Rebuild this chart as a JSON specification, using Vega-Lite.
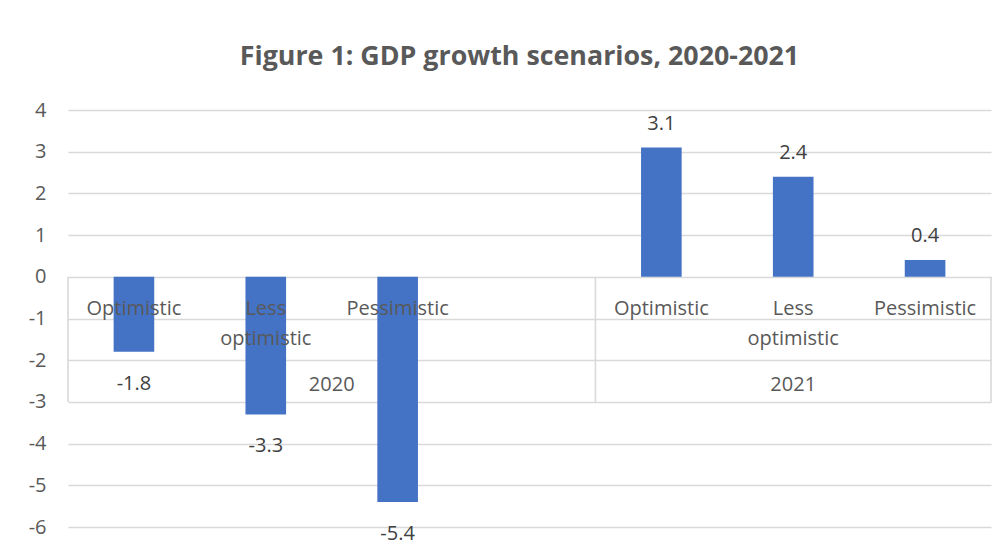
{
  "$schema": "https://vega.github.io/schema/vega-lite/v6.json",
  "autosize": "none",
  "width": 923,
  "height": 417,
  "padding": {"left": 68, "top": 110, "right": 17, "bottom": 24},
  "background": "white",
  "title": {
    "text": "Figure 1: GDP growth scenarios, 2020-2021",
    "font": "Open Sans",
    "fontSize": 26.8,
    "fontWeight": "bold",
    "color": "#595959",
    "anchor": "middle",
    "baseline": "alphabetic",
    "offset": 8,
    "dx": -10
  },
  "config": {
    "view": {"stroke": null},
    "text": {"font": "Open Sans", "fontSize": 20}
  },
  "data": {
    "values": [
      {"year": "2020", "scenario": "Optimistic", "key": "2020 Optimistic", "value": -1.8},
      {"year": "2020", "scenario": "Less optimistic", "key": "2020 Less optimistic", "value": -3.3},
      {"year": "2020", "scenario": "Pessimistic", "key": "2020 Pessimistic", "value": -5.4},
      {"year": "2021", "scenario": "Optimistic", "key": "2021 Optimistic", "value": 3.1},
      {"year": "2021", "scenario": "Less optimistic", "key": "2021 Less optimistic", "value": 2.4},
      {"year": "2021", "scenario": "Pessimistic", "key": "2021 Pessimistic", "value": 0.4}
    ]
  },
  "encoding": {
    "x": {
      "field": "key",
      "type": "nominal",
      "sort": null,
      "scale": {
        "domain": ["2020 Optimistic", "2020 Less optimistic", "2020 Pessimistic", "2020 blank", "2021 Optimistic", "2021 Less optimistic", "2021 Pessimistic"],
        "paddingInner": 0,
        "paddingOuter": 0
      },
      "axis": null
    }
  },
  "layer": [
    {
      "mark": {"type": "bar", "width": {"band": 0.308}, "color": "#4472C4"},
      "encoding": {
        "y": {
          "field": "value",
          "type": "quantitative",
          "scale": {"domain": [-6, 4], "nice": false, "zero": false},
          "axis": {
            "title": null,
            "values": [-6, -5, -4, -3, -2, -1, 0, 1, 2, 3, 4],
            "labelExpr": "replace(datum.label, '\u2212', '-')",
            "domain": false,
            "ticks": false,
            "grid": true,
            "gridColor": "#d9d9d9",
            "gridWidth": 1.6,
            "labelFont": "Open Sans",
            "labelFontSize": 20,
            "labelColor": "#595959",
            "labelPadding": 22
          }
        }
      }
    },
    {
      "transform": [{"filter": "datum.scenario === 'Optimistic'"}],
      "mark": {"type": "rule", "color": "#d9d9d9", "strokeWidth": 1.6},
      "encoding": {
        "x": {"field": "key", "type": "nominal", "bandPosition": 0},
        "y": {"datum": 0},
        "y2": {"datum": -3}
      }
    },
    {
      "transform": [{"filter": "datum.key === '2021 Pessimistic'"}],
      "mark": {"type": "rule", "color": "#d9d9d9", "strokeWidth": 1.6},
      "encoding": {
        "x": {"field": "key", "type": "nominal", "bandPosition": 1},
        "y": {"datum": 0},
        "y2": {"datum": -3}
      }
    },
    {
      "mark": {"type": "text", "color": "#595959", "baseline": "alphabetic", "lineBreak": " ", "lineHeight": 30},
      "encoding": {
        "y": {"datum": -0.92},
        "text": {"field": "scenario"}
      }
    },
    {
      "transform": [{"filter": "datum.year === '2020' && datum.scenario === 'Less optimistic'"}],
      "mark": {"type": "text", "color": "#595959", "baseline": "alphabetic"},
      "encoding": {
        "x": {"field": "key", "type": "nominal", "bandPosition": 1},
        "y": {"datum": -2.74},
        "text": {"field": "year"}
      }
    },
    {
      "transform": [{"filter": "datum.year === '2021' && datum.scenario === 'Less optimistic'"}],
      "mark": {"type": "text", "color": "#595959", "baseline": "alphabetic"},
      "encoding": {
        "x": {"field": "key", "type": "nominal", "bandPosition": 0.5},
        "y": {"datum": -2.74},
        "text": {"field": "year"}
      }
    },
    {
      "transform": [{"filter": "datum.value >= 0"}],
      "mark": {"type": "text", "color": "#404040", "baseline": "alphabetic", "dy": -18},
      "encoding": {
        "y": {"field": "value", "type": "quantitative"},
        "text": {"field": "value", "type": "nominal"}
      }
    },
    {
      "transform": [{"filter": "datum.value < 0"}],
      "mark": {"type": "text", "color": "#404040", "baseline": "alphabetic", "dy": 38},
      "encoding": {
        "y": {"field": "value", "type": "quantitative"},
        "text": {"field": "value", "type": "nominal"}
      }
    }
  ]
}
